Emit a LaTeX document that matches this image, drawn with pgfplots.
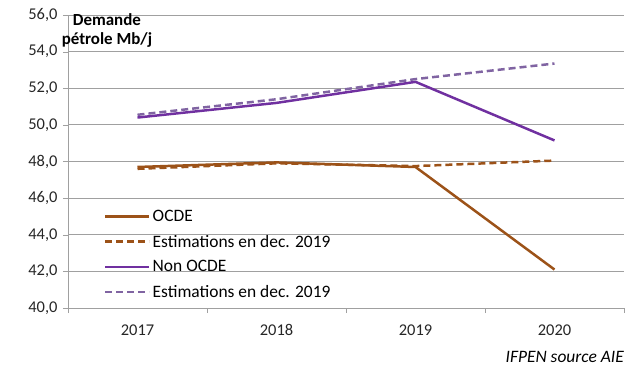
\documentclass[border=0pt]{standalone}
\usepackage{pgfplots}
\pgfplotsset{compat=1.18}
\usepackage{fontspec}
\setmainfont{Carlito}
\definecolor{ocde}{HTML}{9C5218}
\definecolor{nonocde}{HTML}{7030A0}
\definecolor{estnon}{HTML}{8064A2}
\definecolor{gridc}{HTML}{A0A0A0}
\begin{document}
\begin{tikzpicture}
\begin{axis}[
  name=ax,
  scale only axis,
  width=556bp, height=293bp,
  xmin=-0.5, xmax=3.5,
  ymin=40, ymax=56,
  xtick={0,1,2,3},
  xticklabels={2017,2018,2019,2020},
  major x tick style={draw=none},
  minor xtick={-0.5,0.5,1.5,2.5,3.5},
  minor x tick style={draw=gridc, thin},
  minor tick length=5bp,
  ytick={40,42,...,56},
  y tick label style={/pgf/number format/fixed, /pgf/number format/fixed zerofill, /pgf/number format/precision=1, /pgf/number format/use comma, xshift=-2bp},
  /pgf/number format/assume math mode=true,
  tick label style={font=\fontsize{16.5}{19}\selectfont, text=black!85},
  ymajorgrids,
  grid style={draw=gridc, line width=0.8pt},
  axis x line*=bottom,
  axis y line*=left,
  axis line style={draw=gridc, line width=0.8pt},
  every outer x axis line/.append style={-},
  every outer y axis line/.append style={-},
  tick align=outside,
  major tick length=5bp,
  major y tick style={draw=gridc},
  xticklabel style={yshift=-8bp},
  legend style={at={(0.063,0.345)}, anchor=north west, draw=none, fill=none,
    font=\fontsize{17.5}{20}\selectfont, row sep=8bp, cells={anchor=west}, inner sep=1bp},
  legend image code/.code={\draw[#1] (0bp,0bp) -- (44bp,0bp);},
  clip=false,
]
\addplot[ocde, line width=2.5pt] coordinates {(0,47.7) (1,47.95) (2,47.7) (3,42.1)};
\addlegendentry{OCDE}
\addplot[ocde, line width=2.5pt, dash pattern=on 7bp off 4bp] coordinates {(0,47.6) (1,47.9) (2,47.75) (3,48.05)};
\addlegendentry{Estimations en dec. 2019}
\addplot[nonocde, line width=2.5pt] coordinates {(0,50.4) (1,51.2) (2,52.35) (3,49.15)};
\addlegendentry{Non OCDE}
\addplot[estnon, line width=2.5pt, dash pattern=on 7bp off 4bp] coordinates {(0,50.55) (1,51.4) (2,52.5) (3,53.35)};
\addlegendentry{Estimations en dec. 2019}
\node[anchor=north, align=center, font=\bfseries\fontsize{17}{19}\selectfont, inner sep=0pt] at (rel axis cs:0.07,1.005) {Demande\\pétrole Mb/j};
\end{axis}
\node[anchor=east, font=\itshape\fontsize{17.5}{20}\selectfont, inner sep=0pt] at ([yshift=-49bp]ax.south east) {IFPEN source AIE};
\path ([shift={(-68bp,-68bp)}]ax.south west) rectangle +(641bp,376bp);
\end{tikzpicture}
\end{document}
